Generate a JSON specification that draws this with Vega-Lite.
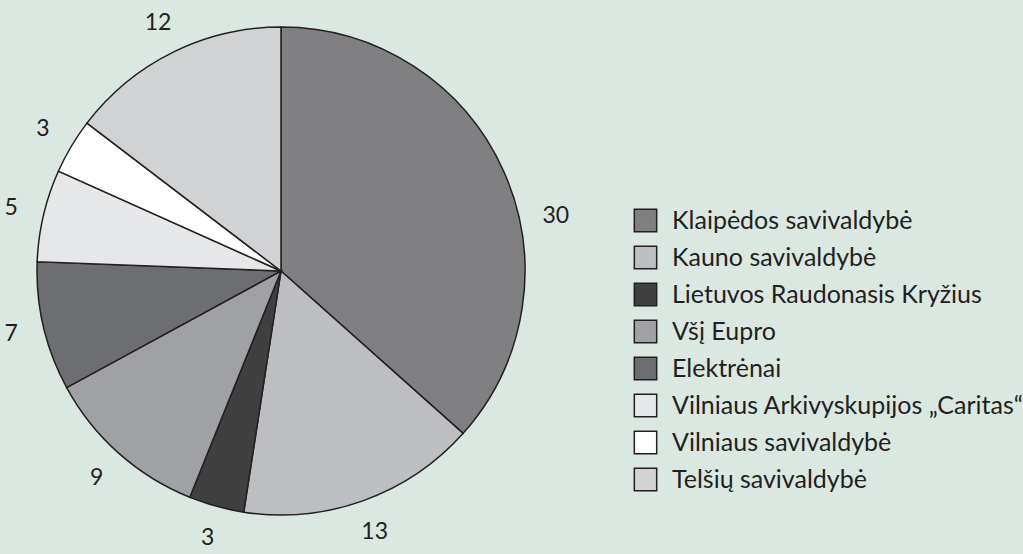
{
  "$schema": "https://vega.github.io/schema/vega-lite/v6.json",
  "background": "#dae8e1",
  "autosize": {"type": "none"},
  "padding": {"left": 0, "top": 0, "right": 461, "bottom": 12},
  "width": 562,
  "height": 542,
  "data": {
    "values": [
      {"order": 1, "name": "Klaipėdos savivaldybė", "value": 30},
      {"order": 2, "name": "Kauno savivaldybė", "value": 13},
      {"order": 3, "name": "Lietuvos Raudonasis Kryžius", "value": 3},
      {"order": 4, "name": "Všį Eupro", "value": 9},
      {"order": 5, "name": "Elektrėnai", "value": 7},
      {"order": 6, "name": "Vilniaus Arkivyskupijos „Caritas“", "value": 5},
      {"order": 7, "name": "Vilniaus savivaldybė", "value": 3},
      {"order": 8, "name": "Telšių savivaldybė", "value": 12}
    ]
  },
  "encoding": {
    "theta": {"field": "value", "type": "quantitative", "stack": true},
    "order": {"field": "order", "type": "quantitative"},
    "color": {
      "field": "name",
      "type": "nominal",
      "scale": {
        "domain": ["Klaipėdos savivaldybė", "Kauno savivaldybė", "Lietuvos Raudonasis Kryžius", "Všį Eupro", "Elektrėnai", "Vilniaus Arkivyskupijos „Caritas“", "Vilniaus savivaldybė", "Telšių savivaldybė"],
        "range": ["#808083", "#bdbec2", "#404041", "#a0a1a4", "#6d6e71", "#e6e7e8", "#ffffff", "#d1d2d4"]
      },
      "legend": {
        "title": null,
        "orient": "none",
        "legendX": 633,
        "legendY": 208,
        "symbolType": "square",
        "symbolSize": 500,
        "symbolStrokeColor": "#231f20",
        "symbolStrokeWidth": 1.5,
        "symbolOpacity": 1,
        "labelFont": "Lato",
        "labelFontSize": 25,
        "labelColor": "#231f20",
        "labelOffset": 14,
        "rowPadding": 8,
        "labelLimit": 400
      }
    }
  },
  "layer": [
    {
      "mark": {"type": "arc", "radius": 244, "stroke": "#231f20", "strokeWidth": 1.5, "opacity": 1}
    },
    {
      "mark": {"type": "text", "radius": 277, "font": "Lato", "fontSize": 23, "fill": "#231f20"},
      "encoding": {
        "text": {"condition": {"test": "datum.order === 1", "value": ""}, "field": "value", "type": "quantitative"},
        "color": {"value": "#231f20"}
      }
    },
    {
      "mark": {"type": "text", "radius": 277, "font": "Lato", "fontSize": 23, "fill": "#231f20", "dx": 22, "dy": 58},
      "encoding": {
        "text": {"condition": {"test": "datum.order !== 1", "value": ""}, "field": "value", "type": "quantitative"},
        "color": {"value": "#231f20"}
      }
    }
  ]
}
